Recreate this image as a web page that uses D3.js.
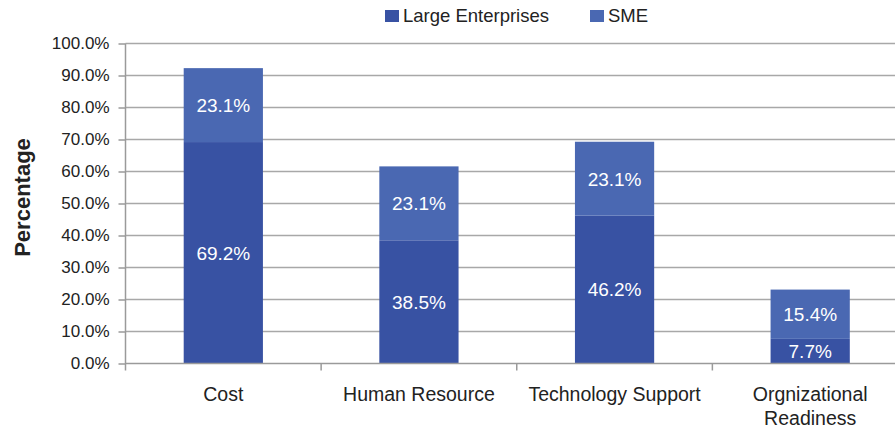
<!DOCTYPE html>
<html>
<head>
<meta charset="utf-8">
<script src="https://cdn.jsdelivr.net/npm/d3@7"></script>
<style>
  html, body { margin: 0; padding: 0; background: #fff; }
  svg { display: block; }
  text { font-family: "Liberation Sans", Arial, sans-serif; fill: #222; }
</style>
</head>
<body>
<svg id="chart" width="895" height="429"></svg>
<script>
// Barriers to adoption, stacked by enterprise size
const categories = ["Cost", "Human Resource", "Technology Support", "Orgnizational\nReadiness"];
const largeEnterprises = [69.2, 38.5, 46.2, 7.7];
const sme = [23.1, 23.1, 23.1, 15.4];
const seriesNames = ["Large Enterprises", "SME"];
const yTicks = [0, 10, 20, 30, 40, 50, 60, 70, 80, 90, 100];

const colors = ["#3852a3", "#4a68b2"];
const W = 895, H = 429;
const margin = { left: 125.5, right: -13, top: 43.5, bottom: 65.5 };

const svg = d3.select("#chart");

const x = d3.scaleBand()
  .domain(categories)
  .range([margin.left, W - margin.right])
  .paddingInner(0.595)
  .paddingOuter(0.2975);

const y = d3.scaleLinear()
  .domain([0, 100])
  .range([H - margin.bottom, margin.top]);

// horizontal gridlines
svg.append("g")
  .selectAll("line")
  .data(yTicks.filter(d => d > 0))
  .join("line")
  .attr("x1", margin.left)
  .attr("x2", W)
  .attr("y1", d => y(d))
  .attr("y2", d => y(d))
  .attr("stroke", "#a8a8a8")
  .attr("stroke-width", 1.3);

// stacked data
const rows = categories.map((c, i) => ({ cat: c, large: largeEnterprises[i], sme: sme[i] }));
const stack = d3.stack().keys(["large", "sme"])(rows);

const layers = svg.append("g")
  .selectAll("g")
  .data(stack)
  .join("g")
  .attr("fill", (d, i) => colors[i]);

layers.selectAll("rect")
  .data(d => d)
  .join("rect")
  .attr("x", d => x(d.data.cat))
  .attr("width", x.bandwidth())
  .attr("y", d => y(d[1]))
  .attr("height", d => y(d[0]) - y(d[1]));

// value labels centred in each segment
layers.selectAll("text")
  .data(d => d)
  .join("text")
  .attr("x", d => x(d.data.cat) + x.bandwidth() / 2)
  .attr("y", d => (y(d[0]) + y(d[1])) / 2)
  .attr("dy", "0.36em")
  .attr("text-anchor", "middle")
  .style("fill", "#fff")
  .style("font-size", "19px")
  .text(d => (d[1] - d[0]).toFixed(1) + "%");

// y axis
const yAxis = d3.axisLeft(y)
  .tickValues(yTicks)
  .tickSize(7)
  .tickPadding(9)
  .tickFormat(d => d.toFixed(1) + "%");

const gy = svg.append("g")
  .attr("transform", `translate(${margin.left},0)`)
  .call(yAxis);
gy.select(".domain").remove();
gy.selectAll(".tick line").attr("stroke", "#9a9a9a").attr("stroke-width", 1.5);
gy.selectAll(".tick text").style("font-size", "17px").style("fill", "#222");
gy.append("line")
  .attr("x1", 0).attr("x2", 0)
  .attr("y1", y(100)).attr("y2", y(0) + 7)
  .attr("stroke", "#9a9a9a").attr("stroke-width", 1.5);

// x axis baseline and category separators
const gx = svg.append("g");
gx.append("line")
  .attr("x1", margin.left).attr("x2", W)
  .attr("y1", y(0)).attr("y2", y(0))
  .attr("stroke", "#9a9a9a").attr("stroke-width", 1.5);
const step = x.step();
gx.selectAll("line.sep")
  .data(categories.slice(1))
  .join("line")
  .attr("class", "sep")
  .attr("x1", d => x(d) - (step - x.bandwidth()) / 2)
  .attr("x2", d => x(d) - (step - x.bandwidth()) / 2)
  .attr("y1", y(0)).attr("y2", y(0) + 7)
  .attr("stroke", "#9a9a9a").attr("stroke-width", 1.5);

// category labels
const catText = gx.selectAll("text")
  .data(categories)
  .join("text")
  .attr("x", d => x(d) + x.bandwidth() / 2)
  .attr("y", y(0) + 37.5)
  .attr("text-anchor", "middle")
  .style("font-size", "19.5px");
catText.selectAll("tspan")
  .data(d => d.split("\n").map(t => ({ t, x: x(d) + x.bandwidth() / 2 })))
  .join("tspan")
  .attr("x", d => d.x)
  .attr("dy", (d, i) => i === 0 ? 0 : 23.5)
  .text(d => d.t);

// axis title
svg.append("text")
  .attr("transform", `translate(30,${(y(0) + y(100)) / 2 - 6}) rotate(-90)`)
  .attr("text-anchor", "middle")
  .style("font-size", "22px")
  .style("font-weight", "bold")
  .text("Percentage");

// legend
const legendX = [385, 590];
const lg = svg.append("g")
  .selectAll("g")
  .data(seriesNames)
  .join("g")
  .attr("transform", (d, i) => `translate(${legendX[i]},10)`);
lg.append("rect")
  .attr("width", 14).attr("height", 12)
  .attr("fill", (d, i) => colors[i]);
lg.append("text")
  .attr("x", 18).attr("y", 12)
  .style("font-size", "18.5px")
  .text(d => d);
</script>
</body>
</html>
